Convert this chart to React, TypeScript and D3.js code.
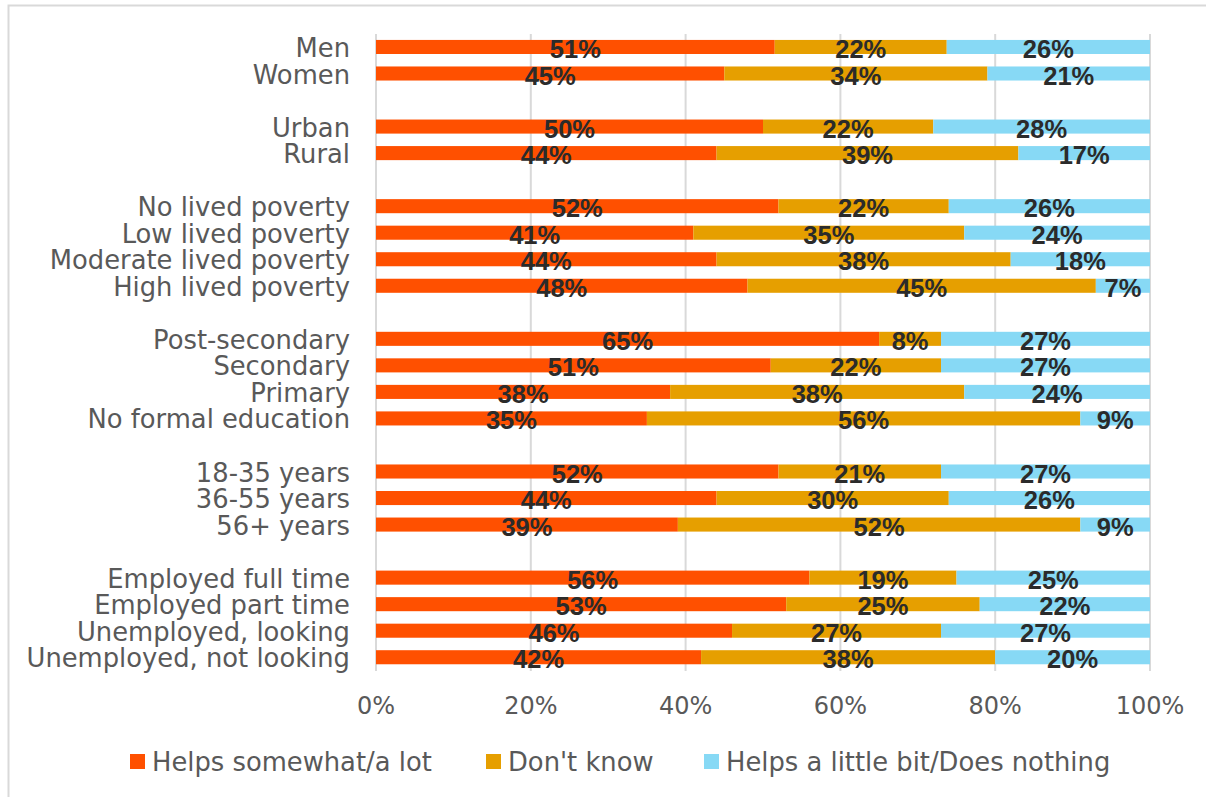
import React, { useEffect, useRef } from "react";
import * as d3 from "d3";

const seriesNames = ["Helps somewhat/a lot", "Don't know", "Helps a little bit/Does nothing"];
const seriesKeys = ["helps", "dontKnow", "little"];
const colors = ["#FF5000", "#E69F00", "#87D9F5"];

const groups: string[][] = [
  ["Men", "Women"],
  ["Urban", "Rural"],
  ["No lived poverty", "Low lived poverty", "Moderate lived poverty", "High lived poverty"],
  ["Post-secondary", "Secondary", "Primary", "No formal education"],
  ["18-35 years", "36-55 years", "56+ years"],
  ["Employed full time", "Employed part time", "Unemployed, looking", "Unemployed, not looking"],
];

const helps = [51, 45, 50, 44, 52, 41, 44, 48, 65, 51, 38, 35, 52, 44, 39, 56, 53, 46, 42];
const dontKnow = [22, 34, 22, 39, 22, 35, 38, 45, 8, 22, 38, 56, 21, 30, 52, 19, 25, 27, 38];
const little = [26, 21, 28, 17, 26, 24, 18, 7, 27, 27, 24, 9, 27, 26, 9, 25, 22, 27, 20];

const xTicks = [0, 0.2, 0.4, 0.6, 0.8, 1];

export default function App() {
  const ref = useRef<SVGSVGElement>(null);

  useEffect(() => {
    const svg = d3.select(ref.current);
    svg.selectAll("*").remove();

    const categories = groups.flat();
    const rows = categories.map((c, i) => ({
      category: c,
      helps: helps[i],
      dontKnow: dontKnow[i],
      little: little[i],
    }));

    const domain: string[] = [];
    groups.forEach((g, gi) => {
      if (gi > 0) domain.push(`__gap${gi}`);
      g.forEach((c) => domain.push(c));
    });

    const x = d3.scaleLinear().domain([0, 1]).range([376, 1150]);
    const y = d3.scaleBand<string>().domain(domain).range([33.7, 670.5]).paddingInner(0.47).paddingOuter(0.235);

    const regFont = "'DejaVu Sans', sans-serif";
    const textColor = "#595959";

    svg.append("rect")
      .attr("x", 8.5).attr("y", 5.5).attr("width", 1300).attr("height", 900)
      .attr("fill", "#fff").attr("stroke", "#d9d9d9").attr("stroke-width", 2);

    svg.append("g").selectAll("line").data(xTicks).join("line")
      .attr("x1", (d) => x(d)).attr("x2", (d) => x(d))
      .attr("y1", 34).attr("y2", 671)
      .attr("stroke", "#d9d9d9").attr("stroke-width", 2);

    const stack = d3.stack<any>().keys(seriesKeys).offset(d3.stackOffsetExpand);
    const stacked = stack(rows);

    const g = svg.append("g");
    stacked.forEach((layer, li) => {
      g.append("g").selectAll("rect").data(layer).join("rect")
        .attr("x", (d) => x(d[0]))
        .attr("width", (d) => x(d[1]) - x(d[0]))
        .attr("y", (d) => y(d.data.category)!)
        .attr("height", y.bandwidth())
        .attr("fill", colors[li]);
    });

    stacked.forEach((layer, li) => {
      g.append("g").selectAll("text").data(layer).join("text")
        .attr("x", (d) => (x(d[0]) + x(d[1])) / 2)
        .attr("y", (d) => y(d.data.category)! + y.bandwidth() / 2 + 2)
        .attr("text-anchor", "middle")
        .attr("dominant-baseline", "central")
        .attr("font-family", "'Liberation Sans', Arial, sans-serif")
        .attr("font-weight", "bold")
        .attr("font-size", 25.5)
        .attr("fill", "#2b2b2b")
        .text((d) => `${(d.data as any)[seriesKeys[li]]}%`);
    });

    svg.append("g").selectAll("text").data(categories).join("text")
      .attr("x", 350)
      .attr("y", (d) => y(d)! + y.bandwidth() / 2 + 1)
      .attr("text-anchor", "end")
      .attr("dominant-baseline", "central")
      .attr("font-family", regFont)
      .attr("font-size", 25.8)
      .attr("fill", textColor)
      .text((d) => d);

    svg.append("g").selectAll("text").data(xTicks).join("text")
      .attr("x", (d) => x(d))
      .attr("y", 706)
      .attr("text-anchor", "middle")
      .attr("dominant-baseline", "central")
      .attr("font-family", regFont)
      .attr("font-size", 24)
      .attr("fill", textColor)
      .text((d) => d3.format(".0%")(d));

    const legendX = [130, 486, 704];
    const lg = svg.append("g");
    seriesNames.forEach((name, i) => {
      lg.append("rect").attr("x", legendX[i]).attr("y", 754).attr("width", 15).attr("height", 15).attr("fill", colors[i]);
      lg.append("text")
        .attr("x", legendX[i] + 22).attr("y", 762)
        .attr("dominant-baseline", "central")
        .attr("font-family", regFont)
        .attr("font-size", 25.8)
        .attr("fill", textColor)
        .text(name);
    });
  }, []);

  return (
    <svg
      ref={ref}
      width={1206}
      height={797}
      style={{ position: "absolute", left: 0, top: 0, background: "#fff" }}
    />
  );
}
